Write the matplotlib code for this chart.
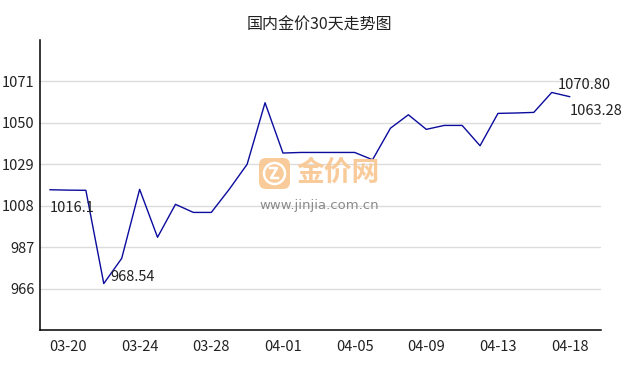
import matplotlib
matplotlib.use("Agg")
import matplotlib.pyplot as plt
from matplotlib.patches import FancyBboxPatch, Circle
from matplotlib.lines import Line2D
import numpy as np

plt.rcParams['font.family'] = ['Noto Sans CJK SC', 'DejaVu Sans']

# 30 daily prices (yuan/g)
dates = ["03-19", "03-20", "03-21", "03-22", "03-23", "03-24", "03-25", "03-26",
         "03-27", "03-28", "03-29", "03-30", "03-31", "04-01", "04-02", "04-03",
         "04-04", "04-05", "04-06", "04-07", "04-08", "04-09", "04-10", "04-11",
         "04-12", "04-13", "04-15", "04-16", "04-17", "04-18"]
prices = [1016.1, 1015.9, 1015.8, 968.54, 981.3, 1016.3, 992.0, 1008.7,
          1004.6, 1004.6, 1016.3, 1029.0, 1060.2, 1034.7, 1035.0, 1035.0,
          1035.0, 1035.0, 1031.3, 1047.3, 1054.1, 1046.7, 1048.7, 1048.7,
          1038.4, 1054.8, 1055.0, 1055.3, 1065.4, 1063.28]
yticks = [966, 987, 1008, 1029, 1050, 1071]
tick_idx = [1, 5, 9, 13, 17, 21, 25, 29]
# point labels: (index, text)
point_labels = [(0, "1016.1"), (3, "968.54"), (28, "1070.80"), (29, "1063.28")]

W, H = 638, 370
fig = plt.figure(figsize=(W / 100, H / 100), dpi=100)
ax = fig.add_axes([40 / W, 40 / H, 561 / W, 290 / H])

x = np.arange(len(prices))
ax.plot(x, prices, color="#0b0b9e", lw=1, zorder=3)

ax.set_xlim(-0.56, 30.75)
ax.set_ylim(945, 1092)
ax.set_yticks(yticks)
ax.set_yticklabels([str(v) for v in yticks])
ax.set_xticks(tick_idx)
ax.set_xticklabels([dates[i] for i in tick_idx])
ax.tick_params(length=0, labelsize=10.5, colors="#222222")
ax.tick_params(axis="y", pad=4)
ax.tick_params(axis="x", pad=7)
ax.grid(axis="y", color="#dcdcdc", lw=1)
ax.set_axisbelow(True)
for s in ["top", "right"]:
    ax.spines[s].set_visible(False)
for s in ["left", "bottom"]:
    ax.spines[s].set_color("black")
    ax.spines[s].set_linewidth(1.1)

# value labels
offs = {0: (0, -8, "left", "top"), 3: (5, 0, "left", "bottom"),
        28: (4, 0, "left", "bottom"), 29: (0, -5, "left", "top")}
for i, txt in point_labels:
    dx, dy, ha, va = offs[i]
    ax.annotate(txt, (x[i], prices[i]), xytext=(dx, dy), textcoords="offset points",
                ha=ha, va=va, fontsize=10.5, color="#222222", zorder=4)

fig.text(0.5, 1 - 25 / H, "国内金价30天走势图", ha="center", va="center",
         fontsize=11.5, color="#222222")

# watermark
px = fig.dpi_scale_trans
box = FancyBboxPatch((259 / 100, (H - 189) / 100), 0.31, 0.31,
                     boxstyle="round,pad=0,rounding_size=0.07", transform=px,
                     fc="#f9c690", ec="none", alpha=0.9, zorder=1)
fig.patches.append(box)
ring = Circle((274.5 / 100, (H - 173.5) / 100), 0.105, transform=px, fill=False,
              ec="white", lw=1.8, zorder=2)
fig.patches.append(ring)
fig.lines.append(Line2D([2.70, 2.77, 2.71, 2.78],
                        [(H - 168) / 100, (H - 168) / 100, (H - 178) / 100, (H - 178) / 100],
                        transform=px, color="white", lw=1.8, zorder=3))
fig.text(338 / W, 1 - 173 / H, "金价网", ha="center", va="center", fontsize=20,
         fontweight="bold", color="#f9c690", alpha=0.9)
fig.text(319 / W, 1 - 206 / H, "www.jinjia.com.cn", ha="center", va="center",
         fontsize=9.5, color="#8a8a8a", family=["DejaVu Sans"])

fig.savefig("out.png", dpi=100)
